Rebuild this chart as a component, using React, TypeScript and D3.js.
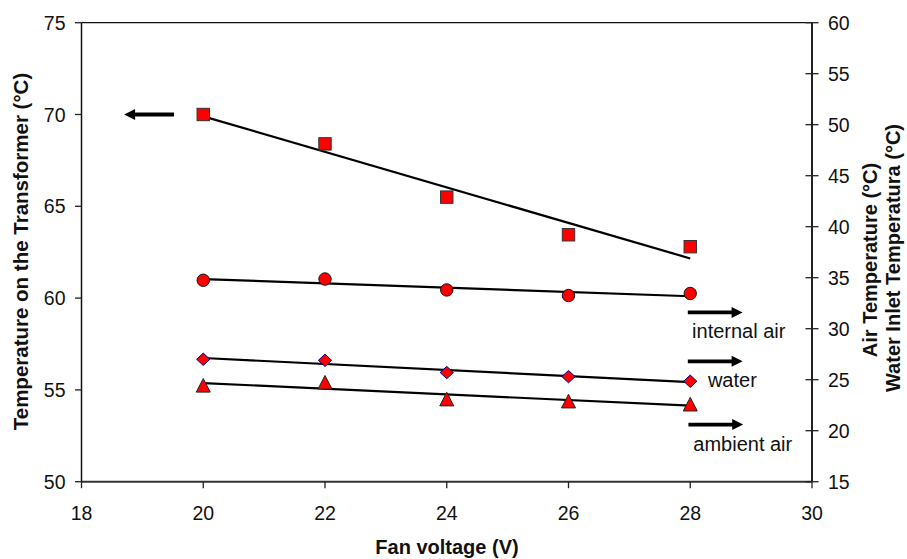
import React from "react";
import * as d3 from "d3";

const voltages = [20, 22, 24, 26, 28];
const transformerTemp = [70.0, 68.4, 65.5, 63.45, 62.8];
const internalAirTemp = [34.75, 34.87, 33.8, 33.25, 33.45];
const waterTemp = [27.0, 26.9, 25.7, 25.3, 24.85];
const ambientAirTemp = [24.45, 24.75, 23.1, 22.9, 22.6];

const xTicks = [18, 20, 22, 24, 26, 28, 30];
const leftTicks = [50, 55, 60, 65, 70, 75];
const rightTicks = [15, 20, 25, 30, 35, 40, 45, 50, 55, 60];

const xTitle = "Fan voltage (V)";
const leftTitle = "Temperature on the Transformer (°C)";
const rightTitle1 = "Air Temperature (°C)";
const rightTitle2 = "Water Inlet Temperatura (°C)";

// annotations in data coordinates
const leftArrow = { x1: 19.52, x2: 18.7, y: 70 };
const rightArrows = [
  { x1: 27.96, x2: 28.86, y: 31.6, label: "internal air", lx: 28.03, ly: 29.06 },
  { x1: 27.96, x2: 28.86, y: 26.8, label: "water", lx: 28.29, ly: 24.25 },
  { x1: 27.97, x2: 28.87, y: 20.6, label: "ambient air", lx: 28.05, ly: 18.04 },
];

const W = 907;
const H = 559;
const L = 81.5, R = 812, T = 22.7, B = 481.7;
const FONT = "'Liberation Sans', Arial, Helvetica, sans-serif";

function regression(xs: number[], ys: number[]) {
  const mx = d3.mean(xs)!;
  const my = d3.mean(ys)!;
  let num = 0, den = 0;
  xs.forEach((x, i) => {
    num += (x - mx) * (ys[i] - my);
    den += (x - mx) * (x - mx);
  });
  const slope = num / den;
  return (x: number) => my + slope * (x - mx);
}

export default function App() {
  const x = d3.scaleLinear().domain([18, 30]).range([L, R]);
  const yL = d3.scaleLinear().domain([50, 75]).range([B, T]);
  const yR = d3.scaleLinear().domain([15, 60]).range([B, T]);

  const line = d3.line<[number, number]>().x((d) => d[0]).y((d) => d[1]);

  const trend = (ys: number[], ys2: d3.ScaleLinear<number, number>) => {
    const f = regression(voltages, ys);
    const x0 = voltages[0];
    const x1 = voltages[voltages.length - 1];
    return line([
      [x(x0), ys2(f(x0))],
      [x(x1), ys2(f(x1))],
    ])!;
  };

  const arrowPath = (x1: number, x2: number, y: number) => {
    const dir = Math.sign(x2 - x1);
    const headLen = 11;
    const headHalf = 5.5;
    const shaftHalf = 1.9;
    const hb = x2 - dir * headLen;
    return `M${x1},${y - shaftHalf}L${hb},${y - shaftHalf}L${hb},${y - headHalf}L${x2},${y}L${hb},${y + headHalf}L${hb},${y + shaftHalf}L${x1},${y + shaftHalf}Z`;
  };

  const tri = (cx: number, cy: number) => {
    const w = 7, h = 6.8;
    return `M${cx},${cy - h}L${cx + w},${cy + h}L${cx - w},${cy + h}Z`;
  };
  const diamond = (cx: number, cy: number) => {
    const w = 6.6, h = 6.2;
    return `M${cx},${cy - h}L${cx + w},${cy}L${cx},${cy + h}L${cx - w},${cy}Z`;
  };

  return (
    <svg
      width={W}
      height={H}
      style={{ position: "absolute", left: 0, top: 0, background: "#fff" }}
      fontFamily={FONT}
    >
      <rect x={0} y={0} width={W} height={H} fill="#fff" />

      {/* frame */}
      <line x1={L} x2={R} y1={T} y2={T} stroke="#111" strokeWidth={1.3} />
      <line x1={L} x2={R} y1={B} y2={B} stroke="#333" strokeWidth={2} />
      <line x1={L} x2={L} y1={T} y2={B} stroke="#111" strokeWidth={1.5} />
      <line x1={R} x2={R} y1={T} y2={B} stroke="#222" strokeWidth={2} />

      {/* x ticks */}
      {xTicks.map((t) => (
        <g key={"x" + t}>
          <line x1={x(t)} x2={x(t)} y1={B} y2={B + 6.5} stroke="#222" strokeWidth={1.3} />
          <text x={x(t)} y={519.5} textAnchor="middle" fontSize={19.5} fill="#111">
            {t}
          </text>
        </g>
      ))}

      {/* left ticks */}
      {leftTicks.map((t) => (
        <g key={"l" + t}>
          <line x1={L - 6.5} x2={L} y1={yL(t)} y2={yL(t)} stroke="#222" strokeWidth={1.3} />
          <text x={65.5} y={yL(t) + 7} textAnchor="end" fontSize={19.5} fill="#111">
            {t}
          </text>
        </g>
      ))}

      {/* right ticks */}
      {rightTicks.map((t) => (
        <g key={"r" + t}>
          <line x1={R - 6.5} x2={R + 6.5} y1={yR(t)} y2={yR(t)} stroke="#222" strokeWidth={1.3} />
          <text x={828} y={yR(t) + 7} textAnchor="start" fontSize={19.5} fill="#111">
            {t}
          </text>
        </g>
      ))}

      {/* titles */}
      <text x={447} y={554} textAnchor="middle" fontSize={20} fontWeight="bold" fill="#111">
        {xTitle}
      </text>
      <text
        transform={`translate(27.5,251.5) rotate(-90)`}
        textAnchor="middle"
        fontSize={20.5}
        fontWeight="bold"
        fill="#111"
      >
        {leftTitle}
      </text>
      <text
        transform={`translate(876.5,260) rotate(-90)`}
        textAnchor="middle"
        fontSize={20}
        fontWeight="bold"
        fill="#111"
      >
        {rightTitle1}
      </text>
      <text
        transform={`translate(900,258) rotate(-90)`}
        textAnchor="middle"
        fontSize={20}
        fontWeight="bold"
        fill="#111"
      >
        {rightTitle2}
      </text>

      {/* trend lines */}
      <path d={trend(transformerTemp, yL)} stroke="#000" strokeWidth={2.2} fill="none" />
      <path d={trend(internalAirTemp, yR)} stroke="#000" strokeWidth={2.2} fill="none" />
      <path d={trend(waterTemp, yR)} stroke="#000" strokeWidth={2.2} fill="none" />
      <path d={trend(ambientAirTemp, yR)} stroke="#000" strokeWidth={2.2} fill="none" />

      {/* markers */}
      {voltages.map((v, i) => (
        <rect
          key={"s" + i}
          x={x(v) - 6.2}
          y={yL(transformerTemp[i]) - 6.2}
          width={12.4}
          height={12.4}
          fill="#ff0000"
          stroke="#333"
          strokeWidth={1}
        />
      ))}
      {voltages.map((v, i) => (
        <circle
          key={"c" + i}
          cx={x(v)}
          cy={yR(internalAirTemp[i])}
          r={6.2}
          fill="#ff0000"
          stroke="#111"
          strokeWidth={1}
        />
      ))}
      {voltages.map((v, i) => (
        <path
          key={"d" + i}
          d={diamond(x(v), yR(waterTemp[i]))}
          fill="#ff0000"
          stroke="#000080"
          strokeWidth={1}
        />
      ))}
      {voltages.map((v, i) => (
        <path
          key={"t" + i}
          d={tri(x(v), yR(ambientAirTemp[i]))}
          fill="#ff0000"
          stroke="#222"
          strokeWidth={1}
        />
      ))}

      {/* annotations */}
      <path d={arrowPath(x(leftArrow.x1), x(leftArrow.x2), yL(leftArrow.y))} fill="#000" />
      {rightArrows.map((a) => (
        <g key={a.label}>
          <path d={arrowPath(x(a.x1), x(a.x2), yR(a.y))} fill="#000" />
          <text x={x(a.lx)} y={yR(a.ly)} fontSize={20} fill="#111">
            {a.label}
          </text>
        </g>
      ))}
    </svg>
  );
}
